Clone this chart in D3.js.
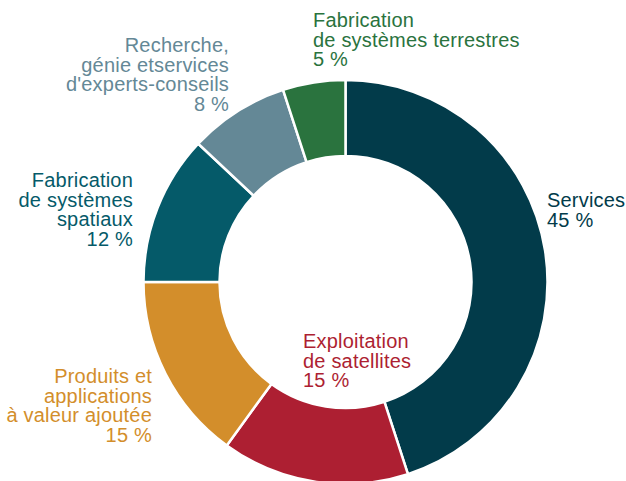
<!DOCTYPE html>
<html>
<head>
<meta charset="utf-8">
<script src="https://cdn.jsdelivr.net/npm/d3@7"></script>
<style>
  body { margin: 0; background: #fff; }
  text { font-family: "Liberation Sans", Arial, sans-serif; }
</style>
</head>
<body>
<div id="chart"></div>
<script>
// data, clockwise from 12 o'clock
var categories = [
    ["Services"],
    ["Exploitation", "de satellites"],
    ["Produits et", "applications", "à valeur ajoutée"],
    ["Fabrication", "de systèmes", "spatiaux"],
    ["Recherche,", "génie etservices", "d'experts-conseils"],
    ["Fabrication", "de systèmes terrestres"]
  ]
var shares = [45, 15, 15, 12, 8, 5]
var colors = ["#023b4a", "#ad1f32", "#d38e2b", "#055a69", "#648896", "#2a733e"]

// label placement (x, first baseline, anchor)
var labelPos = [
    {x: 547, y: 207, anchor: "start"},
    {x: 303, y: 348, anchor: "start"},
    {x: 152, y: 383, anchor: "end"},
    {x: 133, y: 187, anchor: "end"},
    {x: 229, y: 52, anchor: "end"},
    {x: 313, y: 27, anchor: "start"}
  ]

var width = 626, height = 481
var cx = 345.5, cy = 282
var outerR = 202, innerR = 126
var lineH = 19.5

var vis = d3.select("#chart")
            .append("svg")
            .attr("width", width).attr("height", height);

var pie = d3.pie().sort(null).value(function(d) { return d; })
var arc = d3.arc().innerRadius(innerR).outerRadius(outerR)

var g = vis.append("g").attr("transform", "translate(" + cx + "," + cy + ")")

g.selectAll("path.slice")
   .data(pie(shares))
   .enter()
   .append("path")
   .attr("class", "slice")
   .attr("d", arc)
   .attr("fill", function(d, i) { return colors[i] })
   .attr("stroke", "#fff")
   .attr("stroke-width", 2.5)

var labels = vis.selectAll("text.label")
   .data(categories)
   .enter()
   .append("text")
   .attr("class", "label")
   .attr("text-anchor", function(d, i) { return labelPos[i].anchor })
   .attr("fill", function(d, i) { return colors[i] })
   .style("font-size", "20px")
   .style("letter-spacing", "0.2px")

labels.each(function(d, i) {
    var t = d3.select(this)
    var lines = d.concat([shares[i] + " %"])
    lines.forEach(function(s, k) {
        t.append("tspan")
         .attr("x", labelPos[i].x)
         .attr("y", labelPos[i].y + k * lineH)
         .text(s)
    })
})
</script>
</body>
</html>
